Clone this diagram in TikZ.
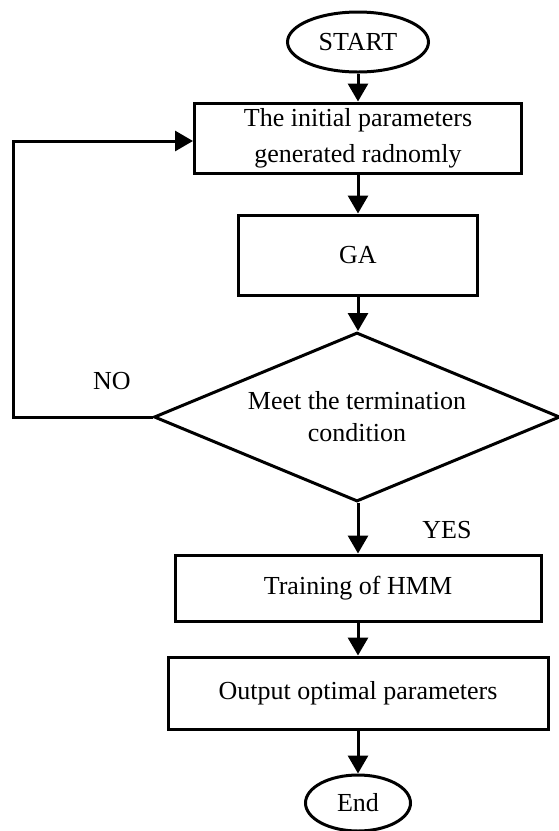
\documentclass[tikz,border=0pt]{standalone}
\usepackage{fontspec}
\setmainfont{Liberation Serif}
\usetikzlibrary{shapes.geometric,arrows.meta}
\begin{document}
\begin{tikzpicture}[x=1pt,y=-1pt,
  every node/.style={font=\fontsize{26}{32}\selectfont},
  boxnode/.style={draw,line width=3pt,rectangle,inner sep=0pt,align=center},
  term/.style={draw,line width=3pt,ellipse,inner sep=0pt},
  arr/.style={line width=3pt,-{Triangle[length=18pt,width=20pt]}},
  lbl/.style={inner sep=0pt}]
\useasboundingbox (0,0) rectangle (558,831);
\node[term,minimum width=141pt,minimum height=60pt] (start) at (358,42) {START};
\node[boxnode,minimum width=327pt,minimum height=70pt,font=\fontsize{26}{36}\selectfont] (init) at (358,138) {The initial parameters\\generated radnomly};
\node[boxnode,minimum width=239pt,minimum height=80pt] (ga) at (358,255) {GA};
\node[draw,line width=3pt,diamond,aspect=2.4,inner sep=0pt,minimum width=406pt,minimum height=169pt,align=center] (cond) at (357,417) {Meet the termination\\condition};
\node[boxnode,minimum width=366pt,minimum height=66pt] (train) at (358,588) {Training of HMM};
\node[boxnode,minimum width=380pt,minimum height=72pt] (out) at (358,693) {Output optimal parameters};
\node[term,minimum width=105pt,minimum height=56pt] (end) at (358,803) {End};
\node[lbl] (no) at (112,381) {NO};
\node[lbl] (yes) at (447,530) {YES};
\coordinate (lc) at (13,141);
\draw[arr] (start.south) -- (init.north);
\draw[arr] (init.south) -- (ga.north);
\draw[arr] (ga.south) -- (ga.south |- cond.north);
\draw[arr] (train.north |- cond.south) -- (train.north);
\draw[arr] (train.south) -- (out.north);
\draw[arr] (out.south) -- (end.north);
\draw[arr] (cond.west) -- (cond.west -| lc) -- (lc) -- (lc -| init.west);
\end{tikzpicture}
\end{document}
